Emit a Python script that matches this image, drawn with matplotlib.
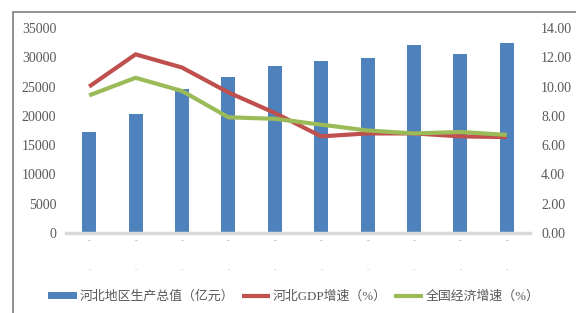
import matplotlib.pyplot as plt
from matplotlib.patches import Rectangle
import matplotlib.transforms as mtransforms
import numpy as np

plt.rcParams['font.family'] = ['Liberation Serif', 'Noto Sans CJK SC']

years = ['2009', '2010', '2011', '2012', '2013', '2014', '2015', '2016', '2017', '2018']
gdp = np.array([17235, 20394, 24516, 26575, 28443, 29421, 29806, 32070, 30640, 32494])
hebei_growth = np.array([10.0, 12.2, 11.3, 9.6, 8.2, 6.6, 6.8, 6.8, 6.6, 6.55])
china_growth = np.array([9.4, 10.6, 9.7, 7.9, 7.8, 7.4, 7.0, 6.8, 6.9, 6.7])

bar_label = '河北地区生产总值（亿元）'
red_label = '河北GDP增速（%）'
green_label = '全国经济增速（%）'

gray = '#595959'
fig = plt.figure(figsize=(5.76, 3.13), dpi=100)
ax = fig.add_axes([66/576, 1-233/313, (530-66)/576, (233-28)/313])
ax2 = ax.twinx()

x = np.arange(len(years))
bars = ax.bar(x, gdp, width=0.3, color='#4F81BD', label=bar_label, zorder=2)
l1, = ax2.plot(x, hebei_growth, color='#C0504D', lw=3, label=red_label, solid_capstyle='butt')
l2, = ax2.plot(x, china_growth, color='#9BBB59', lw=3, label=green_label, solid_capstyle='butt')

ax.set_xlim(-0.5, len(years) - 0.5)
ax.set_ylim(0, 35000)
ax.set_yticks(np.arange(0, 35001, 5000))
ax2.set_ylim(0, 14)
ax2.set_yticks(np.arange(0, 14.01, 2))
ax2.set_yticklabels(['%.2f' % v for v in np.arange(0, 14.01, 2)])

# category labels are unreadable in the source: a dash and a dot under each bar
ax.set_xticks(x)
ax.set_xticklabels(['-' for _ in years], fontsize=6, color='#a0a0a0')
trans = mtransforms.blended_transform_factory(ax.transData, ax.transAxes)
for xi in x:
    ax.text(xi, -0.17, '.', transform=trans, ha='center', va='center', fontsize=6, color='#a0a0a0')

for a in (ax, ax2):
    for s in a.spines.values():
        s.set_visible(False)
    a.tick_params(length=0, labelsize=10, colors=gray)
ax.tick_params(axis='y', pad=7)
ax2.tick_params(axis='y', pad=8)
ax.tick_params(axis='x', pad=3, labelsize=6, labelcolor='#a0a0a0')
ax.axhline(0, color='#D9D9D9', lw=2.5, zorder=3, clip_on=False)

fig.legend(handles=[bars, l1, l2], loc='center', bbox_to_anchor=(0.51, 1-297/313),
           ncol=3, frameon=False, fontsize=9.3, labelcolor=gray,
           handlelength=2.2, handleheight=0.5, columnspacing=0.6, handletextpad=0.2)

fig.patches.append(Rectangle((13/576, -0.1), 1.2, 1.1 - 12/313, transform=fig.transFigure,
                             fill=False, edgecolor='#7f7f7f', lw=1.2))

fig.savefig('out.png', dpi=100)
